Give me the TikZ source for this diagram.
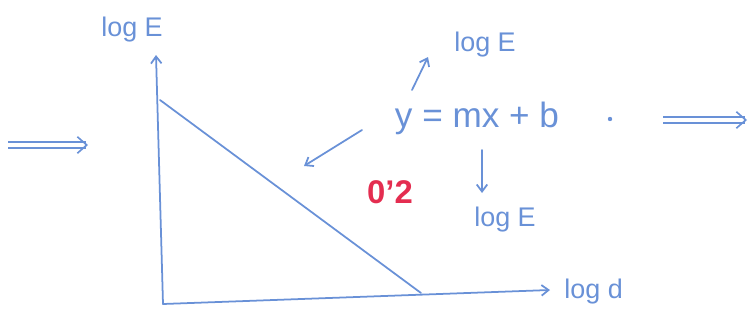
\documentclass[tikz,border=0pt]{standalone}
\usepackage{fontspec}
\setmainfont{Liberation Sans}
\usetikzlibrary{arrows.meta}
\definecolor{ink}{RGB}{105,145,215}
\definecolor{redink}{RGB}{228,45,80}
\begin{document}
\begin{tikzpicture}[x=0.03cm,y=-0.03cm,
  pen/.style={draw=ink,line width=1.5pt,line cap=round},
  arr/.style={pen,-{Straight Barb[length=6pt,width=9pt]}},
  dbl/.style={draw=ink,line width=1.4pt,double distance=3.5pt,-{Straight Barb[length=8pt,width=14pt]}},
  lbl/.style={text=ink,font=\fontsize{23}{25}\selectfont,inner sep=1pt},
  eq/.style={text=ink,font=\fontsize{30}{32}\selectfont,inner sep=1pt},
  red/.style={text=redink,font=\fontsize{28}{30}\selectfont\bfseries,inner sep=1pt}]
\useasboundingbox (0,0) rectangle (749,327);
% axes
\coordinate (O) at (163,304);
\coordinate (Ytop) at (156,55);
\coordinate (Xend) at (550,290);
\coordinate (A) at (160,100);
\coordinate (B) at (421,293);
\draw[arr] (O) -- (Ytop);
\draw[arr] (O) -- (Xend);
\draw[pen] (A) -- (B);
% labels
\node[lbl] (yl) at (132,30) {log E};
\node[lbl,anchor=west] (xl) at (563,292) {log d};
\node[eq] (eqn) at (477,118) {y = mx + b};
\node[lbl] (up) at (485,45) {log E};
\node[lbl] (down) at (505,220) {log E};
\node[red] (r) at (390,192) {0'2};
% small arrows
\coordinate (c1) at (362,130);
\coordinate (c2) at (304,166);
\draw[arr] (c1) -- (c2);
\coordinate (u1) at (412,90);
\coordinate (u2) at (428,57);
\draw[arr] (u1) -- (u2);
\coordinate (d1) at (482,150);
\coordinate (d2) at (482,193);
\draw[arr] (d1) -- (d2);
\fill[ink] (610,119) circle (2.2);
% double arrows
\coordinate (L1) at (8,145);
\coordinate (L2) at (88,145);
\coordinate (R1) at (663,120);
\coordinate (R2) at (747,120);
\draw[dbl] (L1) -- (L2);
\draw[dbl] (R1) -- (R2);
\end{tikzpicture}
\end{document}
